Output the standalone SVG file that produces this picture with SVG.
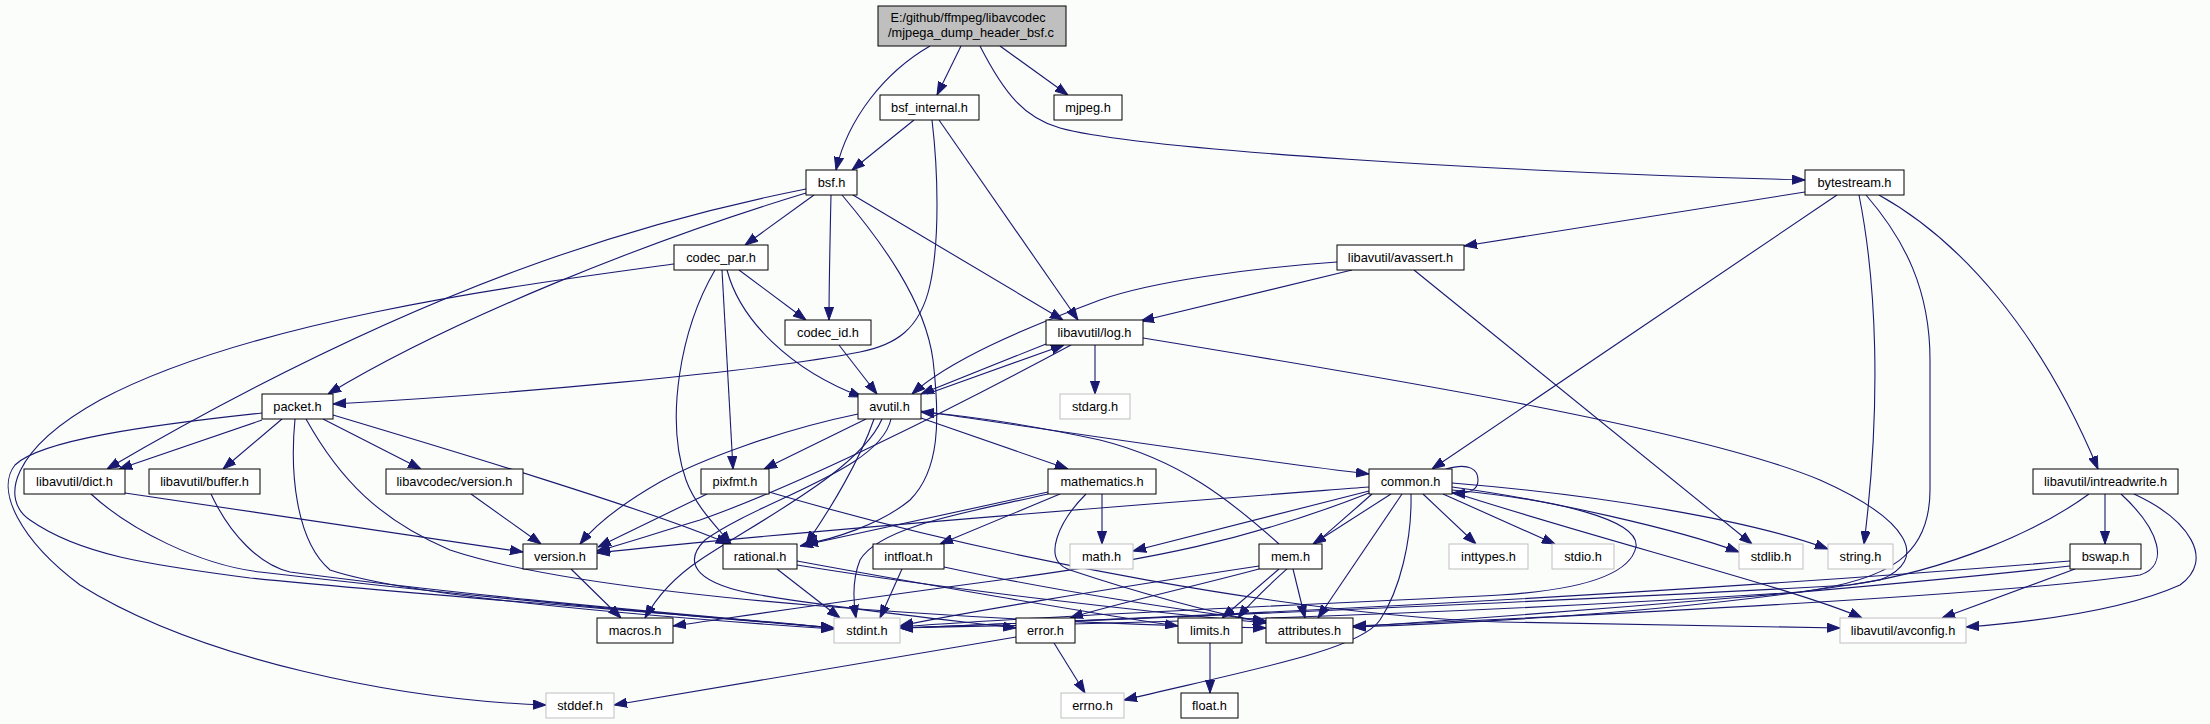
<svg xmlns="http://www.w3.org/2000/svg" width="2210" height="724" viewBox="0 0 2210 724">
<style>
.bg{fill:#fbfdfb}
.n rect{fill:#ffffff;stroke:#000000;stroke-width:1}
.u rect{fill:#ffffff;stroke:#bfbfbf;stroke-width:1}
.m rect{fill:#bfbfbf;stroke:#000000;stroke-width:1}
text{font-family:"Liberation Sans",Arial,sans-serif;font-size:12.8px;fill:#000000;text-anchor:middle}
.e path{fill:none;stroke:#191970;stroke-width:1.1;marker-end:url(#a)}
</style>
<defs>
<marker id="a" markerWidth="13" markerHeight="10" refX="13" refY="5" orient="auto" markerUnits="userSpaceOnUse"><path d="M0,0.4 L13,5 L0,9.6 z" fill="#191970" stroke="#191970" stroke-width="1"/></marker>
</defs>
<rect class="bg" x="0" y="0" width="2210" height="724"/>
<g class="e" id="edges">
<path d="M930,46 C885,72 848,118 836,170"/>
<path d="M961,46 L937,95"/>
<path d="M1000,46 L1068,95"/>
<path d="M980,46 C1005,95 1025,118 1060,128 C1140,150 1500,172 1805,180"/>
<path d="M914,120 L852,170"/>
<path d="M932,120 C938,170 940,240 930,285 C920,330 895,345 860,352 C760,372 500,395 333,404"/>
<path d="M939,120 L1078,320"/>
<path d="M814,195 L745,245"/>
<path d="M831,195 C830,240 829,290 829,320"/>
<path d="M853,195 L1063,320"/>
<path d="M842,195 C880,240 925,300 933,360 C940,420 940,470 910,500 C880,525 830,540 805,544"/>
<path d="M806,189 C650,220 430,280 107,469"/>
<path d="M806,193 C650,240 450,320 328,394"/>
<path d="M1805,192 L1464,246"/>
<path d="M1837,195 L1432,469"/>
<path d="M1859,195 C1876,280 1882,400 1864,544"/>
<path d="M1866,195 C1905,240 1930,290 1930,360 L1930,490 C1930,555 1890,580 1800,592 C1500,612 1200,622 900,628"/>
<path d="M1879,195 C1960,240 2040,330 2098,469"/>
<path d="M739,270 L806,320"/>
<path d="M727,270 C740,320 790,370 862,397"/>
<path d="M722,270 L733,469"/>
<path d="M715,270 C680,330 665,420 686,480 C695,505 715,525 731,544"/>
<path d="M674,264 C520,285 250,320 100,400 C10,450 0,500 30,520 C80,555 150,565 250,578 C450,598 700,615 834,628"/>
<path d="M262,413 C150,425 40,440 15,465 C-5,490 20,540 80,585 C200,660 400,700 546,705"/>
<path d="M262,420 L119,469"/>
<path d="M282,419 L223,469"/>
<path d="M323,419 L421,469"/>
<path d="M295,419 C290,470 295,540 330,570 C420,600 700,620 834,629"/>
<path d="M306,419 C340,480 380,520 450,550 C600,600 1000,622 1266,628"/>
<path d="M333,415 C450,450 650,510 729,544"/>
<path d="M125,493 L523,552"/>
<path d="M91,494 C130,530 200,565 260,572 C500,600 700,617 834,628"/>
<path d="M211,494 C230,535 260,565 290,572 C500,600 720,617 834,628"/>
<path d="M471,494 L541,544"/>
<path d="M839,345 L877,394"/>
<path d="M927,394 L1064,345"/>
<path d="M1046,344 L921,394"/>
<path d="M1337,262 C1250,268 1150,282 1100,300 C1020,330 950,360 912,394"/>
<path d="M1352,270 L1141,321"/>
<path d="M1414,270 L1752,544"/>
<path d="M1095,345 L1095,394"/>
<path d="M1071,345 C950,410 800,485 700,520 C650,535 620,545 597,551"/>
<path d="M1143,338 C1400,380 1700,430 1820,480 C1910,520 1930,560 1880,580 C1700,610 1500,622 1353,627"/>
<path d="M858,414 C780,430 700,460 660,482 C620,505 595,525 580,544"/>
<path d="M866,419 L764,469"/>
<path d="M882,419 C860,470 760,520 700,560 C670,580 655,600 645,618"/>
<path d="M874,419 C860,460 830,510 806,544"/>
<path d="M891,419 C880,470 760,500 705,540 C680,565 700,585 760,595 C850,610 950,620 1016,628"/>
<path d="M921,418 L1068,469"/>
<path d="M921,411 C1050,430 1250,460 1369,474"/>
<path d="M1279,544 C1230,500 1180,460 1100,440 C1030,425 970,416 921,412"/>
<path d="M707,494 L598,547"/>
<path d="M769,492 C1000,560 1300,615 1500,622 L1840,628"/>
<path d="M1048,492 L800,546"/>
<path d="M1060,494 L940,544"/>
<path d="M1102,494 L1102,544"/>
<path d="M1048,494 C980,510 880,525 860,560 C852,580 853,600 856,618"/>
<path d="M1086,494 C1060,520 1040,560 1070,570 C1130,590 1200,610 1266,623"/>
<path d="M1369,487 C1200,500 800,530 597,553"/>
<path d="M1369,491 L1133,551"/>
<path d="M1369,493 C1250,540 1150,560 1000,580 C850,600 750,615 673,626"/>
<path d="M1391,494 L1313,544"/>
<path d="M1402,494 L1318,618"/>
<path d="M1411,494 C1412,540 1400,590 1380,620 C1360,650 1250,670 1124,700"/>
<path d="M1423,494 L1476,544"/>
<path d="M1443,494 L1555,544"/>
<path d="M1452,487 C1550,500 1680,530 1739,552"/>
<path d="M1452,483 C1600,495 1750,520 1828,549"/>
<path d="M1452,492 C1600,540 1800,590 1862,618"/>
<path d="M1446,469 C1470,462 1478,470 1478,480 C1478,490 1470,494 1452,493"/>
<path d="M1452,490 C1560,500 1640,520 1636,547 C1630,575 1580,590 1500,595 C1300,605 1000,618 900,627"/>
<path d="M1372,494 C1320,540 1260,590 1238,618"/>
<path d="M1279,569 L1222,618"/>
<path d="M1293,569 L1305,618"/>
<path d="M1259,566 C1100,590 950,615 900,626"/>
<path d="M1259,569 C1180,590 1110,605 1070,618"/>
<path d="M777,569 L840,618"/>
<path d="M797,561 C900,580 1100,615 1178,626"/>
<path d="M797,565 C950,590 1150,612 1266,623"/>
<path d="M902,569 L880,618"/>
<path d="M944,567 C1050,590 1180,610 1266,621"/>
<path d="M571,569 L621,618"/>
<path d="M1016,637 L614,705"/>
<path d="M1054,643 L1085,693"/>
<path d="M1210,643 L1210,693"/>
<path d="M2105,494 L2105,544"/>
<path d="M2089,494 C2040,530 1950,570 1850,585 C1500,605 1100,620 900,628"/>
<path d="M2121,494 C2160,530 2170,565 2140,575 C2000,595 1600,615 1353,626"/>
<path d="M2134,494 C2190,520 2215,560 2180,585 C2120,612 2030,622 1966,627"/>
<path d="M2070,561 C1900,575 1500,605 900,628"/>
<path d="M2070,566 C1900,585 1600,610 1353,627"/>
<path d="M2075,569 L1942,618"/>
</g>
<g id="main" class="m"><rect x="878" y="6" width="188" height="40"/><text x="968" y="22" textLength="155" lengthAdjust="spacingAndGlyphs">E:/github/ffmpeg/libavcodec</text><text x="971" y="37" textLength="166" lengthAdjust="spacingAndGlyphs">/mjpega_dump_header_bsf.c</text></g>
<g id="bsf_internal" class="n"><rect x="880" y="95" width="99" height="25"/><text x="929.5" y="112">bsf_internal.h</text></g>
<g id="mjpeg" class="n"><rect x="1054" y="95" width="68" height="25"/><text x="1088" y="112">mjpeg.h</text></g>
<g id="bsf" class="n"><rect x="806" y="170" width="51" height="25"/><text x="831.5" y="187">bsf.h</text></g>
<g id="bytestream" class="n"><rect x="1805" y="170" width="99" height="25"/><text x="1854.5" y="187">bytestream.h</text></g>
<g id="codec_par" class="n"><rect x="674" y="245" width="94" height="25"/><text x="721" y="262">codec_par.h</text></g>
<g id="avassert" class="n"><rect x="1337" y="245" width="127" height="25"/><text x="1400.5" y="262">libavutil/avassert.h</text></g>
<g id="codec_id" class="n"><rect x="785" y="320" width="86" height="25"/><text x="828" y="337">codec_id.h</text></g>
<g id="log" class="n"><rect x="1046" y="320" width="97" height="25"/><text x="1094.5" y="337">libavutil/log.h</text></g>
<g id="packet" class="n"><rect x="262" y="394" width="71" height="25"/><text x="297.5" y="411">packet.h</text></g>
<g id="avutil" class="n"><rect x="858" y="394" width="63" height="25"/><text x="889.5" y="411">avutil.h</text></g>
<g id="stdarg" class="u"><rect x="1060" y="394" width="70" height="25"/><text x="1095" y="411">stdarg.h</text></g>
<g id="dict" class="n"><rect x="24" y="469" width="101" height="25"/><text x="74.5" y="486">libavutil/dict.h</text></g>
<g id="buffer" class="n"><rect x="149" y="469" width="111" height="25"/><text x="204.5" y="486">libavutil/buffer.h</text></g>
<g id="lavc_version" class="n"><rect x="386" y="469" width="137" height="25"/><text x="454.5" y="486">libavcodec/version.h</text></g>
<g id="pixfmt" class="n"><rect x="701" y="469" width="68" height="25"/><text x="735" y="486">pixfmt.h</text></g>
<g id="mathematics" class="n"><rect x="1048" y="469" width="108" height="25"/><text x="1102" y="486">mathematics.h</text></g>
<g id="common" class="n"><rect x="1369" y="469" width="83" height="25"/><text x="1410.5" y="486">common.h</text></g>
<g id="intreadwrite" class="n"><rect x="2033" y="469" width="145" height="25"/><text x="2105.5" y="486">libavutil/intreadwrite.h</text></g>
<g id="version" class="n"><rect x="523" y="544" width="74" height="25"/><text x="560" y="561">version.h</text></g>
<g id="rational" class="n"><rect x="723" y="544" width="74" height="25"/><text x="760" y="561">rational.h</text></g>
<g id="intfloat" class="n"><rect x="873" y="544" width="71" height="25"/><text x="908.5" y="561">intfloat.h</text></g>
<g id="math" class="u"><rect x="1070" y="544" width="63" height="25"/><text x="1101.5" y="561">math.h</text></g>
<g id="mem" class="n"><rect x="1259" y="544" width="63" height="25"/><text x="1290.5" y="561">mem.h</text></g>
<g id="inttypes" class="u"><rect x="1449" y="544" width="79" height="25"/><text x="1488.5" y="561">inttypes.h</text></g>
<g id="stdio" class="u"><rect x="1552" y="544" width="62" height="25"/><text x="1583" y="561">stdio.h</text></g>
<g id="stdlib" class="u"><rect x="1739" y="544" width="64" height="25"/><text x="1771" y="561">stdlib.h</text></g>
<g id="string" class="u"><rect x="1828" y="544" width="65" height="25"/><text x="1860.5" y="561">string.h</text></g>
<g id="bswap" class="n"><rect x="2070" y="544" width="71" height="25"/><text x="2105.5" y="561">bswap.h</text></g>
<g id="macros" class="n"><rect x="597" y="618" width="76" height="25"/><text x="635" y="635">macros.h</text></g>
<g id="stdint" class="u"><rect x="834" y="618" width="66" height="25"/><text x="867" y="635">stdint.h</text></g>
<g id="error" class="n"><rect x="1016" y="618" width="59" height="25"/><text x="1045.5" y="635">error.h</text></g>
<g id="limits" class="n"><rect x="1178" y="618" width="64" height="25"/><text x="1210" y="635">limits.h</text></g>
<g id="attributes" class="n"><rect x="1266" y="618" width="87" height="25"/><text x="1309.5" y="635">attributes.h</text></g>
<g id="avconfig" class="u"><rect x="1840" y="618" width="126" height="25"/><text x="1903" y="635">libavutil/avconfig.h</text></g>
<g id="stddef" class="u"><rect x="546" y="693" width="68" height="25"/><text x="580" y="710">stddef.h</text></g>
<g id="errno" class="u"><rect x="1061" y="693" width="63" height="25"/><text x="1092.5" y="710">errno.h</text></g>
<g id="float" class="n"><rect x="1181" y="693" width="57" height="25"/><text x="1209.5" y="710">float.h</text></g>
</svg>
